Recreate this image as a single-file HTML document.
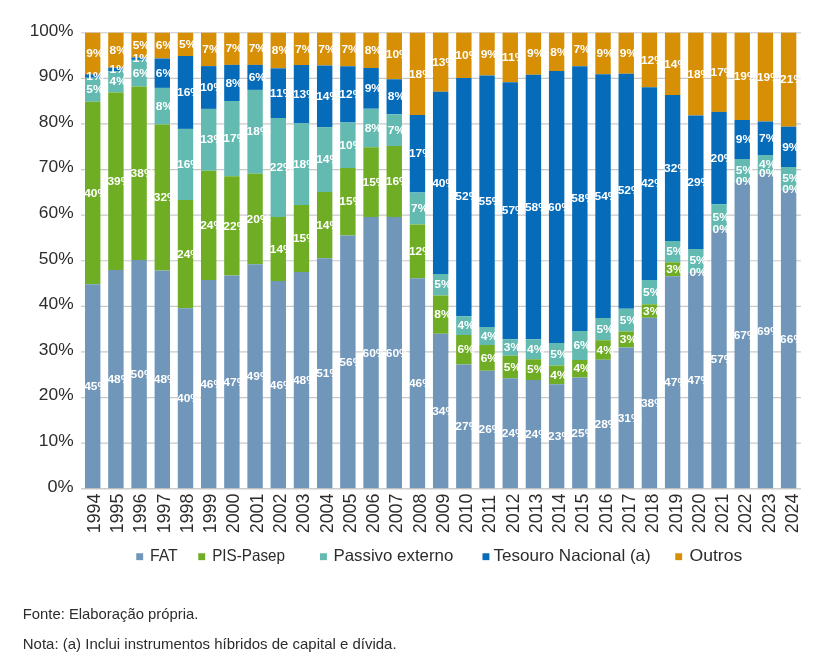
<!DOCTYPE html>
<html lang="pt"><head><meta charset="utf-8"><title>Gráfico</title>
<style>html,body{margin:0;padding:0;background:#fff}svg{display:block}text{font-family:"Liberation Sans",Arial,sans-serif}</style></head><body>
<svg width="832" height="666" viewBox="0 0 832 666">
<rect width="832" height="666" fill="#fff"/>
<g stroke="#c8c8c8" stroke-width="1.2">
<line x1="81" x2="800.9" y1="32.75" y2="32.75"/>
<line x1="81" x2="800.9" y1="78.35" y2="78.35"/>
<line x1="81" x2="800.9" y1="123.95" y2="123.95"/>
<line x1="81" x2="800.9" y1="169.55" y2="169.55"/>
<line x1="81" x2="800.9" y1="215.15" y2="215.15"/>
<line x1="81" x2="800.9" y1="260.75" y2="260.75"/>
<line x1="81" x2="800.9" y1="306.35" y2="306.35"/>
<line x1="81" x2="800.9" y1="351.95" y2="351.95"/>
<line x1="81" x2="800.9" y1="397.55" y2="397.55"/>
<line x1="81" x2="800.9" y1="443.15" y2="443.15"/>
<line x1="81" x2="800.9" y1="488.75" y2="488.75"/>
</g>
<g fill="#2e2b2c" font-size="16.5">
<text x="29.80" y="35.50" textLength="43.8" lengthAdjust="spacingAndGlyphs">100%</text>
<text x="38.80" y="81.10" textLength="34.8" lengthAdjust="spacingAndGlyphs">90%</text>
<text x="38.80" y="126.70" textLength="34.8" lengthAdjust="spacingAndGlyphs">80%</text>
<text x="38.80" y="172.30" textLength="34.8" lengthAdjust="spacingAndGlyphs">70%</text>
<text x="38.80" y="217.90" textLength="34.8" lengthAdjust="spacingAndGlyphs">60%</text>
<text x="38.80" y="263.50" textLength="34.8" lengthAdjust="spacingAndGlyphs">50%</text>
<text x="38.80" y="309.10" textLength="34.8" lengthAdjust="spacingAndGlyphs">40%</text>
<text x="38.80" y="354.70" textLength="34.8" lengthAdjust="spacingAndGlyphs">30%</text>
<text x="38.80" y="400.30" textLength="34.8" lengthAdjust="spacingAndGlyphs">20%</text>
<text x="38.80" y="445.90" textLength="34.8" lengthAdjust="spacingAndGlyphs">10%</text>
<text x="47.40" y="491.50" textLength="26.2" lengthAdjust="spacingAndGlyphs">0%</text>
</g>
<g fill="#d78f05">
<rect x="85.00" y="32.75" width="15.4" height="41.50"/>
<rect x="108.20" y="32.75" width="15.4" height="35.00"/>
<rect x="131.39" y="32.75" width="15.4" height="24.65"/>
<rect x="154.59" y="32.75" width="15.4" height="25.75"/>
<rect x="177.79" y="32.75" width="15.4" height="23.25"/>
<rect x="200.99" y="32.75" width="15.4" height="33.35"/>
<rect x="224.18" y="32.75" width="15.4" height="32.15"/>
<rect x="247.38" y="32.75" width="15.4" height="32.15"/>
<rect x="270.58" y="32.75" width="15.4" height="35.55"/>
<rect x="293.77" y="32.75" width="15.4" height="32.25"/>
<rect x="316.97" y="32.75" width="15.4" height="32.75"/>
<rect x="340.17" y="32.75" width="15.4" height="33.50"/>
<rect x="363.36" y="32.75" width="15.4" height="35.25"/>
<rect x="386.56" y="32.75" width="15.4" height="46.50"/>
<rect x="409.76" y="32.75" width="15.4" height="82.25"/>
<rect x="432.95" y="32.75" width="15.4" height="59.00"/>
<rect x="456.15" y="32.75" width="15.4" height="45.25"/>
<rect x="479.35" y="32.75" width="15.4" height="42.75"/>
<rect x="502.55" y="32.75" width="15.4" height="49.50"/>
<rect x="525.74" y="32.75" width="15.4" height="42.00"/>
<rect x="548.94" y="32.75" width="15.4" height="38.25"/>
<rect x="572.14" y="32.75" width="15.4" height="33.50"/>
<rect x="595.33" y="32.75" width="15.4" height="41.50"/>
<rect x="618.53" y="32.75" width="15.4" height="41.00"/>
<rect x="641.73" y="32.75" width="15.4" height="54.50"/>
<rect x="664.92" y="32.75" width="15.4" height="62.25"/>
<rect x="688.12" y="32.75" width="15.4" height="82.75"/>
<rect x="711.32" y="32.75" width="15.4" height="79.15"/>
<rect x="734.52" y="32.75" width="15.4" height="87.25"/>
<rect x="757.71" y="32.75" width="15.4" height="88.75"/>
<rect x="780.91" y="32.75" width="15.4" height="93.95"/>
</g>
<g fill="#066cb9">
<rect x="85.00" y="74.25" width="15.4" height="3.50"/>
<rect x="108.20" y="67.75" width="15.4" height="3.35"/>
<rect x="131.39" y="57.40" width="15.4" height="2.50"/>
<rect x="154.59" y="58.50" width="15.4" height="29.40"/>
<rect x="177.79" y="56.00" width="15.4" height="72.90"/>
<rect x="200.99" y="66.10" width="15.4" height="42.80"/>
<rect x="224.18" y="64.90" width="15.4" height="36.10"/>
<rect x="247.38" y="64.90" width="15.4" height="25.00"/>
<rect x="270.58" y="68.30" width="15.4" height="49.70"/>
<rect x="293.77" y="65.00" width="15.4" height="58.40"/>
<rect x="316.97" y="65.50" width="15.4" height="61.60"/>
<rect x="340.17" y="66.25" width="15.4" height="56.25"/>
<rect x="363.36" y="68.00" width="15.4" height="40.75"/>
<rect x="386.56" y="79.25" width="15.4" height="35.00"/>
<rect x="409.76" y="115.00" width="15.4" height="77.50"/>
<rect x="432.95" y="91.75" width="15.4" height="182.25"/>
<rect x="456.15" y="78.00" width="15.4" height="238.25"/>
<rect x="479.35" y="75.50" width="15.4" height="251.50"/>
<rect x="502.55" y="82.25" width="15.4" height="257.00"/>
<rect x="525.74" y="74.75" width="15.4" height="264.50"/>
<rect x="548.94" y="71.00" width="15.4" height="272.00"/>
<rect x="572.14" y="66.25" width="15.4" height="264.75"/>
<rect x="595.33" y="74.25" width="15.4" height="243.75"/>
<rect x="618.53" y="73.75" width="15.4" height="235.00"/>
<rect x="641.73" y="87.25" width="15.4" height="192.75"/>
<rect x="664.92" y="95.00" width="15.4" height="146.00"/>
<rect x="688.12" y="115.50" width="15.4" height="133.50"/>
<rect x="711.32" y="111.90" width="15.4" height="92.40"/>
<rect x="734.52" y="120.00" width="15.4" height="39.00"/>
<rect x="757.71" y="121.50" width="15.4" height="33.50"/>
<rect x="780.91" y="126.70" width="15.4" height="40.30"/>
</g>
<g fill="#63bab1">
<rect x="85.00" y="77.75" width="15.4" height="24.00"/>
<rect x="108.20" y="71.10" width="15.4" height="21.30"/>
<rect x="131.39" y="59.90" width="15.4" height="26.60"/>
<rect x="154.59" y="87.90" width="15.4" height="36.60"/>
<rect x="177.79" y="128.90" width="15.4" height="71.10"/>
<rect x="200.99" y="108.90" width="15.4" height="61.85"/>
<rect x="224.18" y="101.00" width="15.4" height="75.25"/>
<rect x="247.38" y="89.90" width="15.4" height="83.85"/>
<rect x="270.58" y="118.00" width="15.4" height="99.00"/>
<rect x="293.77" y="123.40" width="15.4" height="81.60"/>
<rect x="316.97" y="127.10" width="15.4" height="64.90"/>
<rect x="340.17" y="122.50" width="15.4" height="45.50"/>
<rect x="363.36" y="108.75" width="15.4" height="38.50"/>
<rect x="386.56" y="114.25" width="15.4" height="31.75"/>
<rect x="409.76" y="192.50" width="15.4" height="32.00"/>
<rect x="432.95" y="274.00" width="15.4" height="21.50"/>
<rect x="456.15" y="316.25" width="15.4" height="18.75"/>
<rect x="479.35" y="327.00" width="15.4" height="18.00"/>
<rect x="502.55" y="339.25" width="15.4" height="16.50"/>
<rect x="525.74" y="339.25" width="15.4" height="20.00"/>
<rect x="548.94" y="343.00" width="15.4" height="22.50"/>
<rect x="572.14" y="331.00" width="15.4" height="29.00"/>
<rect x="595.33" y="318.00" width="15.4" height="22.25"/>
<rect x="618.53" y="308.75" width="15.4" height="22.75"/>
<rect x="641.73" y="280.00" width="15.4" height="24.30"/>
<rect x="664.92" y="241.00" width="15.4" height="21.25"/>
<rect x="688.12" y="249.00" width="15.4" height="23.50"/>
<rect x="711.32" y="204.30" width="15.4" height="25.40"/>
<rect x="734.52" y="159.00" width="15.4" height="22.50"/>
<rect x="757.71" y="155.00" width="15.4" height="18.50"/>
<rect x="780.91" y="167.00" width="15.4" height="22.75"/>
</g>
<g fill="#6fae24">
<rect x="85.00" y="101.75" width="15.4" height="182.50"/>
<rect x="108.20" y="92.40" width="15.4" height="177.60"/>
<rect x="131.39" y="86.50" width="15.4" height="173.50"/>
<rect x="154.59" y="124.50" width="15.4" height="146.00"/>
<rect x="177.79" y="200.00" width="15.4" height="108.25"/>
<rect x="200.99" y="170.75" width="15.4" height="109.25"/>
<rect x="224.18" y="176.25" width="15.4" height="99.25"/>
<rect x="247.38" y="173.75" width="15.4" height="90.50"/>
<rect x="270.58" y="217.00" width="15.4" height="64.00"/>
<rect x="293.77" y="205.00" width="15.4" height="67.00"/>
<rect x="316.97" y="192.00" width="15.4" height="66.25"/>
<rect x="340.17" y="168.00" width="15.4" height="67.50"/>
<rect x="363.36" y="147.25" width="15.4" height="69.75"/>
<rect x="386.56" y="146.00" width="15.4" height="71.00"/>
<rect x="409.76" y="224.50" width="15.4" height="53.75"/>
<rect x="432.95" y="295.50" width="15.4" height="38.25"/>
<rect x="456.15" y="335.00" width="15.4" height="29.50"/>
<rect x="479.35" y="345.00" width="15.4" height="25.75"/>
<rect x="502.55" y="355.75" width="15.4" height="22.50"/>
<rect x="525.74" y="359.25" width="15.4" height="20.75"/>
<rect x="548.94" y="365.50" width="15.4" height="18.75"/>
<rect x="572.14" y="360.00" width="15.4" height="17.50"/>
<rect x="595.33" y="340.25" width="15.4" height="19.50"/>
<rect x="618.53" y="331.50" width="15.4" height="16.00"/>
<rect x="641.73" y="304.30" width="15.4" height="13.45"/>
<rect x="664.92" y="262.25" width="15.4" height="14.00"/>
</g>
<g fill="#7096b9">
<rect x="85.00" y="284.25" width="15.4" height="204.50"/>
<rect x="108.20" y="270.00" width="15.4" height="218.75"/>
<rect x="131.39" y="260.00" width="15.4" height="228.75"/>
<rect x="154.59" y="270.50" width="15.4" height="218.25"/>
<rect x="177.79" y="308.25" width="15.4" height="180.50"/>
<rect x="200.99" y="280.00" width="15.4" height="208.75"/>
<rect x="224.18" y="275.50" width="15.4" height="213.25"/>
<rect x="247.38" y="264.25" width="15.4" height="224.50"/>
<rect x="270.58" y="281.00" width="15.4" height="207.75"/>
<rect x="293.77" y="272.00" width="15.4" height="216.75"/>
<rect x="316.97" y="258.25" width="15.4" height="230.50"/>
<rect x="340.17" y="235.50" width="15.4" height="253.25"/>
<rect x="363.36" y="217.00" width="15.4" height="271.75"/>
<rect x="386.56" y="217.00" width="15.4" height="271.75"/>
<rect x="409.76" y="278.25" width="15.4" height="210.50"/>
<rect x="432.95" y="333.75" width="15.4" height="155.00"/>
<rect x="456.15" y="364.50" width="15.4" height="124.25"/>
<rect x="479.35" y="370.75" width="15.4" height="118.00"/>
<rect x="502.55" y="378.25" width="15.4" height="110.50"/>
<rect x="525.74" y="380.00" width="15.4" height="108.75"/>
<rect x="548.94" y="384.25" width="15.4" height="104.50"/>
<rect x="572.14" y="377.50" width="15.4" height="111.25"/>
<rect x="595.33" y="359.75" width="15.4" height="129.00"/>
<rect x="618.53" y="347.50" width="15.4" height="141.25"/>
<rect x="641.73" y="317.75" width="15.4" height="171.00"/>
<rect x="664.92" y="276.25" width="15.4" height="212.50"/>
<rect x="688.12" y="272.50" width="15.4" height="216.25"/>
<rect x="711.32" y="229.70" width="15.4" height="259.05"/>
<rect x="734.52" y="181.50" width="15.4" height="307.25"/>
<rect x="757.71" y="173.50" width="15.4" height="315.25"/>
<rect x="780.91" y="189.75" width="15.4" height="299.00"/>
</g>
<line x1="81" x2="800.9" y1="488.75" y2="488.75" stroke="#c8c8c8" stroke-width="1.2"/>
<g fill="#fff" font-size="11.4" font-weight="bold" lengthAdjust="spacingAndGlyphs">
<text x="84.20" y="390.15" textLength="23.95" lengthAdjust="spacingAndGlyphs">45%</text>
<text x="107.40" y="383.03" textLength="23.95" lengthAdjust="spacingAndGlyphs">48%</text>
<text x="130.59" y="378.03" textLength="23.95" lengthAdjust="spacingAndGlyphs">50%</text>
<text x="153.79" y="383.28" textLength="23.95" lengthAdjust="spacingAndGlyphs">48%</text>
<text x="176.99" y="402.15" textLength="23.95" lengthAdjust="spacingAndGlyphs">40%</text>
<text x="200.19" y="388.03" textLength="23.95" lengthAdjust="spacingAndGlyphs">46%</text>
<text x="223.38" y="385.78" textLength="23.95" lengthAdjust="spacingAndGlyphs">47%</text>
<text x="246.58" y="380.15" textLength="23.95" lengthAdjust="spacingAndGlyphs">49%</text>
<text x="269.78" y="388.53" textLength="23.95" lengthAdjust="spacingAndGlyphs">46%</text>
<text x="292.97" y="384.03" textLength="23.95" lengthAdjust="spacingAndGlyphs">48%</text>
<text x="316.17" y="377.15" textLength="23.95" lengthAdjust="spacingAndGlyphs">51%</text>
<text x="339.37" y="365.78" textLength="23.95" lengthAdjust="spacingAndGlyphs">56%</text>
<text x="362.56" y="356.53" textLength="23.95" lengthAdjust="spacingAndGlyphs">60%</text>
<text x="385.76" y="356.53" textLength="23.95" lengthAdjust="spacingAndGlyphs">60%</text>
<text x="408.96" y="387.15" textLength="23.95" lengthAdjust="spacingAndGlyphs">46%</text>
<text x="432.15" y="414.90" textLength="23.95" lengthAdjust="spacingAndGlyphs">34%</text>
<text x="455.35" y="430.28" textLength="23.95" lengthAdjust="spacingAndGlyphs">27%</text>
<text x="478.55" y="433.40" textLength="23.95" lengthAdjust="spacingAndGlyphs">26%</text>
<text x="501.75" y="437.15" textLength="23.95" lengthAdjust="spacingAndGlyphs">24%</text>
<text x="524.94" y="438.03" textLength="23.95" lengthAdjust="spacingAndGlyphs">24%</text>
<text x="548.14" y="440.15" textLength="23.95" lengthAdjust="spacingAndGlyphs">23%</text>
<text x="571.34" y="436.78" textLength="23.95" lengthAdjust="spacingAndGlyphs">25%</text>
<text x="594.53" y="427.90" textLength="23.95" lengthAdjust="spacingAndGlyphs">28%</text>
<text x="617.73" y="421.78" textLength="23.95" lengthAdjust="spacingAndGlyphs">31%</text>
<text x="640.93" y="406.90" textLength="23.95" lengthAdjust="spacingAndGlyphs">38%</text>
<text x="664.12" y="386.15" textLength="23.95" lengthAdjust="spacingAndGlyphs">47%</text>
<text x="687.32" y="384.28" textLength="23.95" lengthAdjust="spacingAndGlyphs">47%</text>
<text x="710.52" y="362.88" textLength="23.95" lengthAdjust="spacingAndGlyphs">57%</text>
<text x="733.72" y="338.78" textLength="23.95" lengthAdjust="spacingAndGlyphs">67%</text>
<text x="756.91" y="334.78" textLength="23.95" lengthAdjust="spacingAndGlyphs">69%</text>
<text x="780.11" y="342.90" textLength="23.95" lengthAdjust="spacingAndGlyphs">66%</text>
<text x="84.20" y="196.65" textLength="23.95" lengthAdjust="spacingAndGlyphs">40%</text>
<text x="107.40" y="184.85" textLength="23.95" lengthAdjust="spacingAndGlyphs">39%</text>
<text x="130.59" y="176.90" textLength="23.95" lengthAdjust="spacingAndGlyphs">38%</text>
<text x="153.79" y="201.15" textLength="23.95" lengthAdjust="spacingAndGlyphs">32%</text>
<text x="176.99" y="257.77" textLength="23.95" lengthAdjust="spacingAndGlyphs">24%</text>
<text x="200.19" y="229.03" textLength="23.95" lengthAdjust="spacingAndGlyphs">24%</text>
<text x="223.38" y="229.53" textLength="23.95" lengthAdjust="spacingAndGlyphs">22%</text>
<text x="246.58" y="222.65" textLength="23.95" lengthAdjust="spacingAndGlyphs">20%</text>
<text x="269.78" y="252.65" textLength="23.95" lengthAdjust="spacingAndGlyphs">14%</text>
<text x="292.97" y="242.15" textLength="23.95" lengthAdjust="spacingAndGlyphs">15%</text>
<text x="316.17" y="228.78" textLength="23.95" lengthAdjust="spacingAndGlyphs">14%</text>
<text x="339.37" y="205.40" textLength="23.95" lengthAdjust="spacingAndGlyphs">15%</text>
<text x="362.56" y="185.78" textLength="23.95" lengthAdjust="spacingAndGlyphs">15%</text>
<text x="385.76" y="185.15" textLength="23.95" lengthAdjust="spacingAndGlyphs">16%</text>
<text x="408.96" y="255.03" textLength="23.95" lengthAdjust="spacingAndGlyphs">12%</text>
<text x="434.25" y="318.28" textLength="17.3" lengthAdjust="spacingAndGlyphs">8%</text>
<text x="457.45" y="353.40" textLength="17.3" lengthAdjust="spacingAndGlyphs">6%</text>
<text x="480.65" y="361.53" textLength="17.3" lengthAdjust="spacingAndGlyphs">6%</text>
<text x="503.85" y="370.65" textLength="17.3" lengthAdjust="spacingAndGlyphs">5%</text>
<text x="527.04" y="373.28" textLength="17.3" lengthAdjust="spacingAndGlyphs">5%</text>
<text x="550.24" y="378.53" textLength="17.3" lengthAdjust="spacingAndGlyphs">4%</text>
<text x="573.44" y="372.40" textLength="17.3" lengthAdjust="spacingAndGlyphs">4%</text>
<text x="596.63" y="353.65" textLength="17.3" lengthAdjust="spacingAndGlyphs">4%</text>
<text x="619.83" y="343.15" textLength="17.3" lengthAdjust="spacingAndGlyphs">3%</text>
<text x="643.03" y="314.68" textLength="17.3" lengthAdjust="spacingAndGlyphs">3%</text>
<text x="666.22" y="272.90" textLength="17.3" lengthAdjust="spacingAndGlyphs">3%</text>
<text x="689.42" y="276.15" textLength="17.3" lengthAdjust="spacingAndGlyphs">0%</text>
<text x="712.62" y="233.35" textLength="17.3" lengthAdjust="spacingAndGlyphs">0%</text>
<text x="735.82" y="185.15" textLength="17.3" lengthAdjust="spacingAndGlyphs">0%</text>
<text x="759.01" y="177.15" textLength="17.3" lengthAdjust="spacingAndGlyphs">0%</text>
<text x="782.21" y="193.40" textLength="17.3" lengthAdjust="spacingAndGlyphs">0%</text>
<text x="86.30" y="93.40" textLength="17.3" lengthAdjust="spacingAndGlyphs">5%</text>
<text x="109.50" y="85.40" textLength="17.3" lengthAdjust="spacingAndGlyphs">4%</text>
<text x="132.69" y="76.85" textLength="17.3" lengthAdjust="spacingAndGlyphs">6%</text>
<text x="155.89" y="109.85" textLength="17.3" lengthAdjust="spacingAndGlyphs">8%</text>
<text x="176.99" y="168.10" textLength="23.95" lengthAdjust="spacingAndGlyphs">16%</text>
<text x="200.19" y="143.47" textLength="23.95" lengthAdjust="spacingAndGlyphs">13%</text>
<text x="223.38" y="142.28" textLength="23.95" lengthAdjust="spacingAndGlyphs">17%</text>
<text x="246.58" y="135.47" textLength="23.95" lengthAdjust="spacingAndGlyphs">18%</text>
<text x="269.78" y="171.15" textLength="23.95" lengthAdjust="spacingAndGlyphs">22%</text>
<text x="292.97" y="167.85" textLength="23.95" lengthAdjust="spacingAndGlyphs">18%</text>
<text x="316.17" y="163.20" textLength="23.95" lengthAdjust="spacingAndGlyphs">14%</text>
<text x="339.37" y="148.90" textLength="23.95" lengthAdjust="spacingAndGlyphs">10%</text>
<text x="364.66" y="131.65" textLength="17.3" lengthAdjust="spacingAndGlyphs">8%</text>
<text x="387.86" y="133.78" textLength="17.3" lengthAdjust="spacingAndGlyphs">7%</text>
<text x="411.06" y="212.15" textLength="17.3" lengthAdjust="spacingAndGlyphs">7%</text>
<text x="434.25" y="288.40" textLength="17.3" lengthAdjust="spacingAndGlyphs">5%</text>
<text x="457.45" y="329.28" textLength="17.3" lengthAdjust="spacingAndGlyphs">4%</text>
<text x="480.65" y="339.65" textLength="17.3" lengthAdjust="spacingAndGlyphs">4%</text>
<text x="503.85" y="351.15" textLength="17.3" lengthAdjust="spacingAndGlyphs">3%</text>
<text x="527.04" y="352.90" textLength="17.3" lengthAdjust="spacingAndGlyphs">4%</text>
<text x="550.24" y="357.90" textLength="17.3" lengthAdjust="spacingAndGlyphs">5%</text>
<text x="573.44" y="349.15" textLength="17.3" lengthAdjust="spacingAndGlyphs">6%</text>
<text x="596.63" y="332.78" textLength="17.3" lengthAdjust="spacingAndGlyphs">5%</text>
<text x="619.83" y="323.78" textLength="17.3" lengthAdjust="spacingAndGlyphs">5%</text>
<text x="643.03" y="295.80" textLength="17.3" lengthAdjust="spacingAndGlyphs">5%</text>
<text x="666.22" y="255.28" textLength="17.3" lengthAdjust="spacingAndGlyphs">5%</text>
<text x="689.42" y="264.40" textLength="17.3" lengthAdjust="spacingAndGlyphs">5%</text>
<text x="712.62" y="220.65" textLength="17.3" lengthAdjust="spacingAndGlyphs">5%</text>
<text x="735.82" y="173.90" textLength="17.3" lengthAdjust="spacingAndGlyphs">5%</text>
<text x="759.01" y="167.90" textLength="17.3" lengthAdjust="spacingAndGlyphs">4%</text>
<text x="782.21" y="182.03" textLength="17.3" lengthAdjust="spacingAndGlyphs">5%</text>
<text x="86.30" y="79.65" textLength="17.3" lengthAdjust="spacingAndGlyphs">1%</text>
<text x="109.50" y="73.07" textLength="17.3" lengthAdjust="spacingAndGlyphs">1%</text>
<text x="132.69" y="62.30" textLength="17.3" lengthAdjust="spacingAndGlyphs">1%</text>
<text x="155.89" y="76.85" textLength="17.3" lengthAdjust="spacingAndGlyphs">6%</text>
<text x="176.99" y="96.10" textLength="23.95" lengthAdjust="spacingAndGlyphs">16%</text>
<text x="200.19" y="91.15" textLength="23.95" lengthAdjust="spacingAndGlyphs">10%</text>
<text x="225.48" y="86.60" textLength="17.3" lengthAdjust="spacingAndGlyphs">8%</text>
<text x="248.68" y="81.05" textLength="17.3" lengthAdjust="spacingAndGlyphs">6%</text>
<text x="269.78" y="96.80" textLength="23.95" lengthAdjust="spacingAndGlyphs">11%</text>
<text x="292.97" y="97.85" textLength="23.95" lengthAdjust="spacingAndGlyphs">13%</text>
<text x="316.17" y="99.95" textLength="23.95" lengthAdjust="spacingAndGlyphs">14%</text>
<text x="339.37" y="98.02" textLength="23.95" lengthAdjust="spacingAndGlyphs">12%</text>
<text x="364.66" y="92.02" textLength="17.3" lengthAdjust="spacingAndGlyphs">9%</text>
<text x="387.86" y="100.40" textLength="17.3" lengthAdjust="spacingAndGlyphs">8%</text>
<text x="408.96" y="157.40" textLength="23.95" lengthAdjust="spacingAndGlyphs">17%</text>
<text x="432.15" y="186.53" textLength="23.95" lengthAdjust="spacingAndGlyphs">40%</text>
<text x="455.35" y="199.58" textLength="23.95" lengthAdjust="spacingAndGlyphs">52%</text>
<text x="478.55" y="204.90" textLength="23.95" lengthAdjust="spacingAndGlyphs">55%</text>
<text x="501.75" y="214.40" textLength="23.95" lengthAdjust="spacingAndGlyphs">57%</text>
<text x="524.94" y="210.65" textLength="23.95" lengthAdjust="spacingAndGlyphs">58%</text>
<text x="548.14" y="210.65" textLength="23.95" lengthAdjust="spacingAndGlyphs">60%</text>
<text x="571.34" y="202.28" textLength="23.95" lengthAdjust="spacingAndGlyphs">58%</text>
<text x="594.53" y="200.47" textLength="23.95" lengthAdjust="spacingAndGlyphs">54%</text>
<text x="617.73" y="193.70" textLength="23.95" lengthAdjust="spacingAndGlyphs">52%</text>
<text x="640.93" y="187.28" textLength="23.95" lengthAdjust="spacingAndGlyphs">42%</text>
<text x="664.12" y="171.65" textLength="23.95" lengthAdjust="spacingAndGlyphs">32%</text>
<text x="687.32" y="185.90" textLength="23.95" lengthAdjust="spacingAndGlyphs">29%</text>
<text x="710.52" y="161.75" textLength="23.95" lengthAdjust="spacingAndGlyphs">20%</text>
<text x="735.82" y="143.15" textLength="17.3" lengthAdjust="spacingAndGlyphs">9%</text>
<text x="759.01" y="141.90" textLength="17.3" lengthAdjust="spacingAndGlyphs">7%</text>
<text x="782.21" y="150.50" textLength="17.3" lengthAdjust="spacingAndGlyphs">9%</text>
<text x="86.30" y="57.15" textLength="17.3" lengthAdjust="spacingAndGlyphs">9%</text>
<text x="109.50" y="53.90" textLength="17.3" lengthAdjust="spacingAndGlyphs">8%</text>
<text x="132.69" y="48.73" textLength="17.3" lengthAdjust="spacingAndGlyphs">5%</text>
<text x="155.89" y="49.27" textLength="17.3" lengthAdjust="spacingAndGlyphs">6%</text>
<text x="179.09" y="48.02" textLength="17.3" lengthAdjust="spacingAndGlyphs">5%</text>
<text x="202.29" y="53.07" textLength="17.3" lengthAdjust="spacingAndGlyphs">7%</text>
<text x="225.48" y="52.48" textLength="17.3" lengthAdjust="spacingAndGlyphs">7%</text>
<text x="248.68" y="52.48" textLength="17.3" lengthAdjust="spacingAndGlyphs">7%</text>
<text x="271.88" y="54.17" textLength="17.3" lengthAdjust="spacingAndGlyphs">8%</text>
<text x="295.07" y="52.52" textLength="17.3" lengthAdjust="spacingAndGlyphs">7%</text>
<text x="318.27" y="52.77" textLength="17.3" lengthAdjust="spacingAndGlyphs">7%</text>
<text x="341.47" y="53.15" textLength="17.3" lengthAdjust="spacingAndGlyphs">7%</text>
<text x="364.66" y="54.02" textLength="17.3" lengthAdjust="spacingAndGlyphs">8%</text>
<text x="385.76" y="58.45" textLength="23.95" lengthAdjust="spacingAndGlyphs">10%</text>
<text x="408.96" y="77.52" textLength="23.95" lengthAdjust="spacingAndGlyphs">18%</text>
<text x="432.15" y="65.90" textLength="23.95" lengthAdjust="spacingAndGlyphs">13%</text>
<text x="455.35" y="59.02" textLength="23.95" lengthAdjust="spacingAndGlyphs">10%</text>
<text x="480.65" y="57.77" textLength="17.3" lengthAdjust="spacingAndGlyphs">9%</text>
<text x="501.75" y="61.15" textLength="23.95" lengthAdjust="spacingAndGlyphs">11%</text>
<text x="527.04" y="57.40" textLength="17.3" lengthAdjust="spacingAndGlyphs">9%</text>
<text x="550.24" y="55.52" textLength="17.3" lengthAdjust="spacingAndGlyphs">8%</text>
<text x="573.44" y="53.15" textLength="17.3" lengthAdjust="spacingAndGlyphs">7%</text>
<text x="596.63" y="57.15" textLength="17.3" lengthAdjust="spacingAndGlyphs">9%</text>
<text x="619.83" y="56.90" textLength="17.3" lengthAdjust="spacingAndGlyphs">9%</text>
<text x="640.93" y="63.65" textLength="23.95" lengthAdjust="spacingAndGlyphs">12%</text>
<text x="664.12" y="67.53" textLength="23.95" lengthAdjust="spacingAndGlyphs">14%</text>
<text x="687.32" y="77.77" textLength="23.95" lengthAdjust="spacingAndGlyphs">18%</text>
<text x="710.52" y="75.97" textLength="23.95" lengthAdjust="spacingAndGlyphs">17%</text>
<text x="733.72" y="80.02" textLength="23.95" lengthAdjust="spacingAndGlyphs">19%</text>
<text x="756.91" y="80.77" textLength="23.95" lengthAdjust="spacingAndGlyphs">19%</text>
<text x="780.11" y="83.37" textLength="23.95" lengthAdjust="spacingAndGlyphs">21%</text>
</g>
<g fill="#2e2b2c" font-size="17.9">
<text transform="translate(99.80 533.3) rotate(-90)">1994</text>
<text transform="translate(123.07 533.3) rotate(-90)">1995</text>
<text transform="translate(146.34 533.3) rotate(-90)">1996</text>
<text transform="translate(169.61 533.3) rotate(-90)">1997</text>
<text transform="translate(192.88 533.3) rotate(-90)">1998</text>
<text transform="translate(216.15 533.3) rotate(-90)">1999</text>
<text transform="translate(239.42 533.3) rotate(-90)">2000</text>
<text transform="translate(262.69 533.3) rotate(-90)">2001</text>
<text transform="translate(285.96 533.3) rotate(-90)">2002</text>
<text transform="translate(309.23 533.3) rotate(-90)">2003</text>
<text transform="translate(332.50 533.3) rotate(-90)">2004</text>
<text transform="translate(355.77 533.3) rotate(-90)">2005</text>
<text transform="translate(379.04 533.3) rotate(-90)">2006</text>
<text transform="translate(402.31 533.3) rotate(-90)">2007</text>
<text transform="translate(425.58 533.3) rotate(-90)">2008</text>
<text transform="translate(448.85 533.3) rotate(-90)">2009</text>
<text transform="translate(472.12 533.3) rotate(-90)">2010</text>
<text transform="translate(495.39 533.3) rotate(-90)">2011</text>
<text transform="translate(518.66 533.3) rotate(-90)">2012</text>
<text transform="translate(541.93 533.3) rotate(-90)">2013</text>
<text transform="translate(565.20 533.3) rotate(-90)">2014</text>
<text transform="translate(588.47 533.3) rotate(-90)">2015</text>
<text transform="translate(611.74 533.3) rotate(-90)">2016</text>
<text transform="translate(635.01 533.3) rotate(-90)">2017</text>
<text transform="translate(658.28 533.3) rotate(-90)">2018</text>
<text transform="translate(681.55 533.3) rotate(-90)">2019</text>
<text transform="translate(704.82 533.3) rotate(-90)">2020</text>
<text transform="translate(728.09 533.3) rotate(-90)">2021</text>
<text transform="translate(751.36 533.3) rotate(-90)">2022</text>
<text transform="translate(774.63 533.3) rotate(-90)">2023</text>
<text transform="translate(797.90 533.3) rotate(-90)">2024</text>
</g>
<rect x="136.25" y="553.25" width="6.9" height="6.9" fill="#7096b9"/>
<text x="149.95" y="561.3" font-size="16.5" fill="#2e2b2c" textLength="27.85" lengthAdjust="spacingAndGlyphs">FAT</text>
<rect x="198.25" y="553.25" width="6.9" height="6.9" fill="#6fae24"/>
<text x="212.2" y="561.3" font-size="16.5" fill="#2e2b2c" textLength="72.85" lengthAdjust="spacingAndGlyphs">PIS-Pasep</text>
<rect x="320" y="553.25" width="6.9" height="6.9" fill="#63bab1"/>
<text x="333.45" y="561.3" font-size="16.5" fill="#2e2b2c" textLength="119.85" lengthAdjust="spacingAndGlyphs">Passivo externo</text>
<rect x="482.5" y="553.25" width="6.9" height="6.9" fill="#066cb9"/>
<text x="493.45" y="561.3" font-size="16.5" fill="#2e2b2c" textLength="157.35" lengthAdjust="spacingAndGlyphs">Tesouro Nacional (a)</text>
<rect x="675.25" y="553.25" width="6.9" height="6.9" fill="#d78f05"/>
<text x="689.45" y="561.3" font-size="16.5" fill="#2e2b2c" textLength="52.85" lengthAdjust="spacingAndGlyphs">Outros</text>
<text x="22.8" y="619.3" font-size="15" fill="#2e2b2c" textLength="175.5" lengthAdjust="spacingAndGlyphs">Fonte: Elaboração própria.</text>
<text x="22.8" y="649.3" font-size="15" fill="#2e2b2c" textLength="373.8" lengthAdjust="spacingAndGlyphs">Nota: (a) Inclui instrumentos híbridos de capital e dívida.</text>
</svg></body></html>
